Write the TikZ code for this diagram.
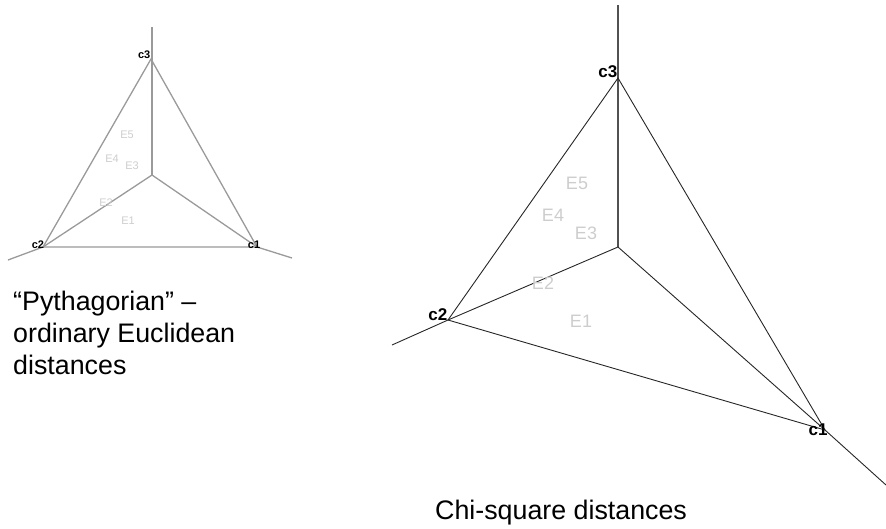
\documentclass[tikz,border=0pt]{standalone}
\usepackage{fontspec}
\setmainfont{Liberation Sans}
\usetikzlibrary{positioning}
\definecolor{axisgray}{HTML}{9A9A9A}
\definecolor{axisdark}{HTML}{262626}
\definecolor{faint}{HTML}{CDCDCD}

\begin{document}
\begin{tikzpicture}[x=1pt, y=-1pt,
    edgeL/.style={draw=axisgray, line width=1.3pt},
    edgeR/.style={draw=axisdark, line width=0.9pt},
    ptL/.style={font=\fontsize{11}{11}\selectfont\bfseries, inner sep=0.5pt},
    ptR/.style={font=\fontsize{17}{17}\selectfont\bfseries, inner sep=0.5pt},
    rowL/.style={text=faint, font=\fontsize{11}{11}\selectfont, inner sep=0pt},
    rowR/.style={text=faint, font=\fontsize{18}{18}\selectfont, inner sep=0pt},
    caption/.style={font=\fontsize{26.8}{32}\selectfont, inner sep=0pt, align=left}]
  \useasboundingbox (0,0) rectangle (886,528);

  % Pythagorian map
  \coordinate (Ltop) at (152,27);
  \coordinate (Lo) at (152,175);
  \coordinate (L3) at (151,59);
  \coordinate (L2) at (43,247);
  \coordinate (L1) at (257,247);
  \coordinate (Lend2) at (8,260);
  \coordinate (Lend1) at (292,258);
  \draw[edgeL] (Ltop) -- (Lo);
  \draw[edgeL] (L2) -- (Lo) -- (L1);
  \draw[edgeL] (L3) -- (L2) -- (L1) -- cycle;
  \draw[edgeL] (L2) -- (Lend2);
  \draw[edgeL] (L1) -- (Lend1);
  \node[ptL, anchor=south east] (lc3) at (L3) {c3};
  \node[ptL] (lc2) at (38,245) {c2};
  \node[ptL] (lc1) at (254,245) {c1};
  \node[rowL] (le5) at (127,135) {E5};
  \node[rowL] (le4) at (112,159) {E4};
  \node[rowL] (le3) at (132,166) {E3};
  \node[rowL] (le2) at (106,203) {E2};
  \node[rowL] (le1) at (128,221) {E1};
  \node[caption, anchor=north west] (capL) at (13,291)
    {“Pythagorian” –\\ordinary Euclidean\\distances};

  % chi-square map
  \coordinate (Rtop) at (618,5);
  \coordinate (Ro) at (618,247);
  \coordinate (R3) at (618,78);
  \coordinate (R2) at (448,320);
  \coordinate (R1) at (825,430);
  \coordinate (Rend2) at (392,345);
  \coordinate (Rend1) at (886,485);
  \draw[edgeR, line width=1.4pt, draw=axisdark!80] (Rtop) -- (Ro);
  \draw[edgeR] (R2) -- (Ro) -- (R1);
  \draw[edgeR] (R3) -- (R2) -- (R1) -- cycle;
  \draw[edgeR] (R2) -- (Rend2);
  \draw[edgeR] (R1) -- (Rend1);
  \node[ptR, anchor=south east] (rc3) at (R3) {c3};
  \node[ptR, anchor=east] (rc2) at ([yshift=5]R2) {c2};
  \node[ptR] (rc1) at (818,430) {c1};
  \node[rowR] (re5) at (577,183) {E5};
  \node[rowR] (re4) at (553,215) {E4};
  \node[rowR] (re3) at (586,233) {E3};
  \node[rowR] (re2) at (543,283) {E2};
  \node[rowR] (re1) at (581,321) {E1};
  \node[caption, anchor=base west] (capR) at (435,519) {Chi-square distances};
\end{tikzpicture}
\end{document}
